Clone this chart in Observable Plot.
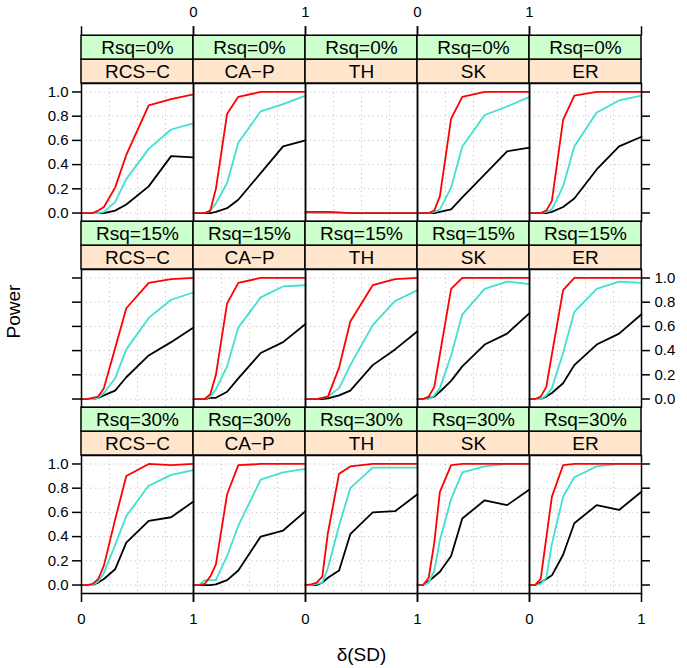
<!DOCTYPE html>
<html><head><meta charset="utf-8">
<script src="https://cdn.jsdelivr.net/npm/d3@7"></script>
<script src="https://cdn.jsdelivr.net/npm/@observablehq/plot@0.6"></script>
<style>body{margin:0;background:#fff;}</style>
</head><body><div id="chart"></div>
<script>
// ---------- data ----------
const methods = ["RCS\u2212C", "CA\u2212P", "TH", "SK", "ER"];
const rsqLabels = ["Rsq=0%", "Rsq=15%", "Rsq=30%"];
const deltaValues = [0, 0.05, 0.1, 0.15, 0.2, 0.3, 0.4, 0.6, 0.8, 1.0];
const seriesNames = ["black", "turquoise", "red"];
const xTickValues = [0, 1];
const yTickValues = [0, 0.2, 0.4, 0.6, 0.8, 1.0];
const xGridValues = [0.25, 0.5, 0.75];

// rows follow `methods` order
const rsq0_black = [
  [0,0,0,0,0,0.02,0.07,0.22,0.47,0.46],
  [0,0,0,0,0.01,0.04,0.11,0.33,0.55,0.60],
  [0,0,0,0,0,0,0,0,0,0],
  [0,0,0,0,0.01,0.03,0.13,0.32,0.51,0.54],
  [0,0,0,0,0.01,0.05,0.12,0.36,0.55,0.63]];
const rsq0_turq = [
  [0,0,0,0,0.01,0.09,0.28,0.53,0.69,0.74],
  [0,0,0,0.02,0.08,0.25,0.58,0.84,0.90,0.97],
  [0,0,0,0,0,0,0,0,0,0],
  [0,0,0,0.01,0.03,0.21,0.55,0.81,0.88,0.96],
  [0,0,0,0.01,0.03,0.22,0.55,0.83,0.93,0.97]];
const rsq0_red = [
  [0,0,0,0.02,0.05,0.21,0.48,0.89,0.94,0.98],
  [0,0,0,0.02,0.20,0.82,0.96,1,1,1],
  [0.01,0.01,0.01,0.01,0.01,0.005,0,0,0,0],
  [0,0,0,0.02,0.14,0.78,0.96,1,1,1],
  [0,0,0,0.02,0.10,0.77,0.97,1,1,1]];

const rsq15_black = [
  [0,0,0,0.01,0.03,0.07,0.18,0.36,0.47,0.59],
  [0,0,0,0.01,0.01,0.06,0.17,0.38,0.47,0.62],
  [0,0,0,0,0.005,0.03,0.07,0.28,0.41,0.56],
  [0,0,0.01,0.02,0.06,0.15,0.27,0.45,0.54,0.71],
  [0,0,0,0.02,0.05,0.13,0.28,0.45,0.54,0.70]];
const rsq15_turq = [
  [0,0,0,0.01,0.05,0.17,0.41,0.67,0.82,0.88],
  [0,0,0,0.02,0.08,0.27,0.59,0.84,0.93,0.94],
  [0,0,0,0.01,0.02,0.09,0.28,0.61,0.81,0.90],
  [0,0,0,0.03,0.09,0.36,0.70,0.91,0.97,0.95],
  [0,0,0,0.03,0.09,0.38,0.72,0.91,0.97,0.96]];
const rsq15_red = [
  [0,0,0.01,0.02,0.09,0.42,0.75,0.96,0.99,1],
  [0,0,0,0.04,0.20,0.79,0.96,1,1,1],
  [0,0,0,0.01,0.02,0.26,0.64,0.94,0.99,1],
  [0,0,0.02,0.10,0.37,0.91,1,1,1,1],
  [0,0,0.02,0.10,0.37,0.90,1,1,1,1]];

const rsq30_black = [
  [0,0,0,0.02,0.05,0.13,0.35,0.53,0.56,0.69],
  [0,0,0,0,0.005,0.04,0.12,0.40,0.45,0.61],
  [0,0,0,0.02,0.06,0.12,0.42,0.60,0.61,0.75],
  [0,0,0.03,0.07,0.11,0.24,0.55,0.70,0.66,0.79],
  [0,0,0.02,0.05,0.08,0.25,0.51,0.66,0.62,0.77]];
const rsq30_turq = [
  [0,0,0,0.03,0.10,0.33,0.57,0.82,0.91,0.95],
  [0,0,0.04,0.04,0.04,0.24,0.49,0.87,0.93,0.96],
  [0,0,0.01,0.02,0.14,0.49,0.80,0.97,0.97,0.97],
  [0,0,0.02,0.12,0.37,0.71,0.93,0.98,1,1],
  [0,0,0.01,0.06,0.34,0.73,0.89,0.98,1,1]];
const rsq30_red = [
  [0,0,0.01,0.05,0.16,0.54,0.90,1,0.99,1],
  [0,0,0.01,0.07,0.17,0.75,0.99,1,1,1],
  [0,0.005,0.02,0.07,0.43,0.92,0.98,1,1,1],
  [0,0,0.06,0.35,0.77,0.99,1,1,1,1],
  [0,0,0.05,0.39,0.73,0.99,1,1,1,1]];

const seriesByRsq = [
  [rsq0_black, rsq0_turq, rsq0_red],
  [rsq15_black, rsq15_turq, rsq15_red],
  [rsq30_black, rsq30_turq, rsq30_red]];

// ---------- table ----------
const rows = [];
seriesNames.forEach((s, si) => {
  rsqLabels.forEach((r, ri) => {
    methods.forEach((m, mi) => {
      deltaValues.forEach((d, di) => {
        rows.push({series: s, rsq: r, method: m, delta: d, power: seriesByRsq[ri][si][mi][di]});
      });
    });
  });
});

// ---------- layout ----------
const W = 687, H = 668;
const mLeft = 80, mRight = 45, mTop = 82, mBottom = 74;
const stripH = 24, rowGap = 2 * stripH, tickLen = 9;
const facetW = (W - mLeft - mRight) / methods.length;
const facetH = (H - mTop - mBottom - rowGap * (rsqLabels.length - 1)) / rsqLabels.length;
const padInner = rowGap / (facetH + rowGap);
const yLo = -0.07, yHi = 1.07;
const yU = (yHi - yLo) / facetH, xU = 1 / facetW;

const firstM = methods[0], lastM = methods[methods.length - 1];
const firstR = rsqLabels[0], lastR = rsqLabels[rsqLabels.length - 1];

const panels = rsqLabels.flatMap(r => methods.map(m => ({rsq: r, method: m})));
const bottomTicks = methods.flatMap(m => xTickValues.map(v => ({method: m, rsq: lastR, v})));
const topTicks = methods.flatMap(m => xTickValues.map(v => ({method: m, rsq: firstR, v})));
const bottomLabels = bottomTicks.filter(d => methods.indexOf(d.method) % 2 === 0);
const topLabels = topTicks.filter(d => methods.indexOf(d.method) % 2 === 1);
const leftTicks = rsqLabels.flatMap(r => yTickValues.map(v => ({method: firstM, rsq: r, v})));
const rightTicks = rsqLabels.flatMap(r => yTickValues.map(v => ({method: lastM, rsq: r, v})));
const leftLabels = leftTicks.filter(d => rsqLabels.indexOf(d.rsq) % 2 === 0);
const rightLabels = rightTicks.filter(d => rsqLabels.indexOf(d.rsq) % 2 === 1);

const fmt = d3.format(".1f");
const font = "'Liberation Sans', Arial, Helvetica, sans-serif";
const gridStyle = {stroke: "#c4c4c4", strokeWidth: 1, strokeDasharray: "1.2,3.3"};

const chart = Plot.plot({
  width: W, height: H,
  marginLeft: mLeft, marginRight: mRight, marginTop: mTop, marginBottom: mBottom,
  x: {domain: [0, 1], axis: null},
  y: {domain: [yLo, yHi], axis: null},
  fx: {domain: methods, padding: 0, axis: null},
  fy: {domain: rsqLabels, paddingInner: padInner, paddingOuter: 0, axis: null},
  color: {domain: seriesNames, range: ["black", "#40E0D0", "#FF0000"]},
  style: {fontFamily: font, fontSize: "15px", background: "white", color: "black"},
  marks: [
    Plot.ruleY(yTickValues, gridStyle),
    Plot.ruleX(xGridValues, gridStyle),
    Plot.line(rows, {x: "delta", y: "power", z: "series", stroke: "series",
      fx: "method", fy: "rsq", strokeWidth: 1.8, strokeLinejoin: "round"}),
    Plot.frame({stroke: "black", strokeWidth: 1.5}),
    // strips
    Plot.rect(panels, {fx: "method", fy: "rsq", x1: 0, x2: 1,
      y1: yHi, y2: yHi + stripH * yU, fill: "#FFE5CC", stroke: "black", strokeWidth: 1.5}),
    Plot.rect(panels, {fx: "method", fy: "rsq", x1: 0, x2: 1,
      y1: yHi + stripH * yU, y2: yHi + 2 * stripH * yU, fill: "#CCFFCC", stroke: "black", strokeWidth: 1.5}),
    Plot.text(panels, {fx: "method", fy: "rsq", text: "method", frameAnchor: "top", lineAnchor: "middle",
      dy: -stripH / 2, fontSize: 19}),
    Plot.text(panels, {fx: "method", fy: "rsq", text: "rsq", frameAnchor: "top", lineAnchor: "middle",
      dy: -1.5 * stripH, fontSize: 19}),
    // x ticks
    Plot.ruleX(bottomTicks, {fx: "method", fy: "rsq", x: "v", y1: yLo, y2: yLo - tickLen * yU, stroke: "black", strokeWidth: 1.5}),
    Plot.ruleX(topTicks, {fx: "method", fy: "rsq", x: "v", y1: yHi + rowGap * yU, y2: yHi + (rowGap + tickLen) * yU, stroke: "black", strokeWidth: 1.5}),
    Plot.text(bottomLabels, {fx: "method", fy: "rsq", x: "v", text: d => String(d.v), frameAnchor: "bottom", lineAnchor: "middle", dy: 26}),
    Plot.text(topLabels, {fx: "method", fy: "rsq", x: "v", text: d => String(d.v), frameAnchor: "top", lineAnchor: "middle", dy: -(stripH * 2 + tickLen + 14)}),
    // y ticks
    Plot.ruleY(leftTicks, {fx: "method", fy: "rsq", y: "v", x1: 0, x2: -tickLen * xU, stroke: "black", strokeWidth: 1.5}),
    Plot.ruleY(rightTicks, {fx: "method", fy: "rsq", y: "v", x1: 1, x2: 1 + tickLen * xU, stroke: "black", strokeWidth: 1.5}),
    Plot.text(leftLabels, {fx: "method", fy: "rsq", y: "v", text: d => fmt(d.v), frameAnchor: "left", textAnchor: "end", lineAnchor: "middle", dx: -13}),
    Plot.text(rightLabels, {fx: "method", fy: "rsq", y: "v", text: d => fmt(d.v), frameAnchor: "right", textAnchor: "start", lineAnchor: "middle", dx: 13}),
    // axis titles
    Plot.text([{method: methods[2], rsq: lastR}], {fx: "method", fy: "rsq", text: () => "\u03B4(SD)", frameAnchor: "bottom", lineAnchor: "middle", dy: 61, fontSize: 19}),
    Plot.text([{method: firstM, rsq: rsqLabels[1]}], {fx: "method", fy: "rsq", text: () => "Power", frameAnchor: "left", lineAnchor: "middle", dx: -68, rotate: -90, fontSize: 19})
  ]
});
document.getElementById("chart").appendChild(chart);
</script>
</body></html>
